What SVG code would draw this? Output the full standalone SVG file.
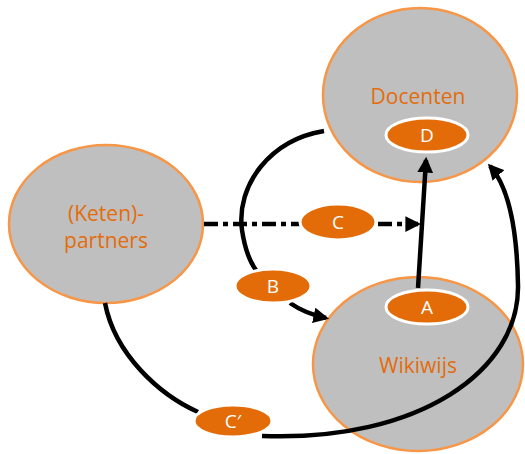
<svg xmlns="http://www.w3.org/2000/svg" width="525" height="454" viewBox="0 0 525 454">
<defs>
<style>
.node{fill:#bfbfbf;stroke:#f79646;stroke-width:2.5}
.ntxt{font-family:"Open Sans","Liberation Sans",sans-serif;font-size:21px;fill:#e46c0a;text-anchor:middle}
.lbl{fill:#e36c09;stroke:#ffffff;stroke-width:3}
.ltxt{font-family:"Open Sans","Liberation Sans",sans-serif;font-size:19px;fill:#ffffff;text-anchor:middle}
.con{fill:none;stroke:#000000;stroke-width:4.5}
</style>
<marker id="ah" viewBox="0 0 10 10" refX="8" refY="5" markerWidth="3.5" markerHeight="3.5" orient="auto" markerUnits="strokeWidth">
<path d="M0,0 L10,5 L0,10 z" fill="#000"/>
</marker>
<marker id="ahs" viewBox="0 0 10 10" refX="8" refY="5" markerWidth="3.5" markerHeight="3.5" orient="auto" markerUnits="strokeWidth">
<path d="M0,0 L10,5 L0,10 z" fill="#000"/>
</marker>
</defs>
<rect width="525" height="454" fill="#ffffff"/>
<g id="docenten">
<ellipse class="node" cx="420" cy="95" rx="97" ry="87"/>
<text class="ntxt" x="418" y="104">Docenten</text>
</g>
<g id="ketenpartners">
<ellipse class="node" cx="106" cy="224" rx="97" ry="79"/>
<text class="ntxt" x="106" y="221">(Keten)-</text>
<text class="ntxt" x="106" y="248">partners</text>
</g>
<g id="wikiwijs">
<ellipse class="node" cx="418" cy="364" rx="105" ry="87"/>
<text class="ntxt" x="418" y="373">Wikiwijs</text>
</g>
<g id="connectors">
<path class="con" d="M324,131 C270,140 236,185 242,230 C245,250 250,262 256,270"/>
<path class="con" d="M290,303 C300,310 312,315 326,318" marker-end="url(#ahs)"/>
<path class="con" d="M204,224 L418,224" stroke-dasharray="14,5,5,5" marker-end="url(#ahs)"/>
<path class="con" d="M418,288 L426,160" stroke-width="6.5" marker-end="url(#ah)"/>
<path class="con" d="M105,303 C115,355 160,395 198,412"/>
<path class="con" d="M262,436 C420,442 520,370 518,285 C517,225 507,185 490,166" marker-end="url(#ahs)"/>
</g>
<g id="labels">
<g id="label-d"><ellipse class="lbl" cx="427" cy="135" rx="41" ry="17"/><text class="ltxt" x="427" y="142">D</text></g>
<g id="label-c"><ellipse class="lbl" cx="338" cy="222" rx="38" ry="18"/><text class="ltxt" x="338" y="229">C</text></g>
<g id="label-b"><ellipse class="lbl" cx="273" cy="286" rx="38" ry="17"/><text class="ltxt" x="273" y="293">B</text></g>
<g id="label-a"><ellipse class="lbl" cx="427" cy="307" rx="41" ry="17"/><text class="ltxt" x="427" y="314">A</text></g>
<g id="label-c2"><ellipse class="lbl" cx="233" cy="421" rx="39" ry="16"/><text class="ltxt" x="233" y="428">C′</text></g>
</g>
</svg>
